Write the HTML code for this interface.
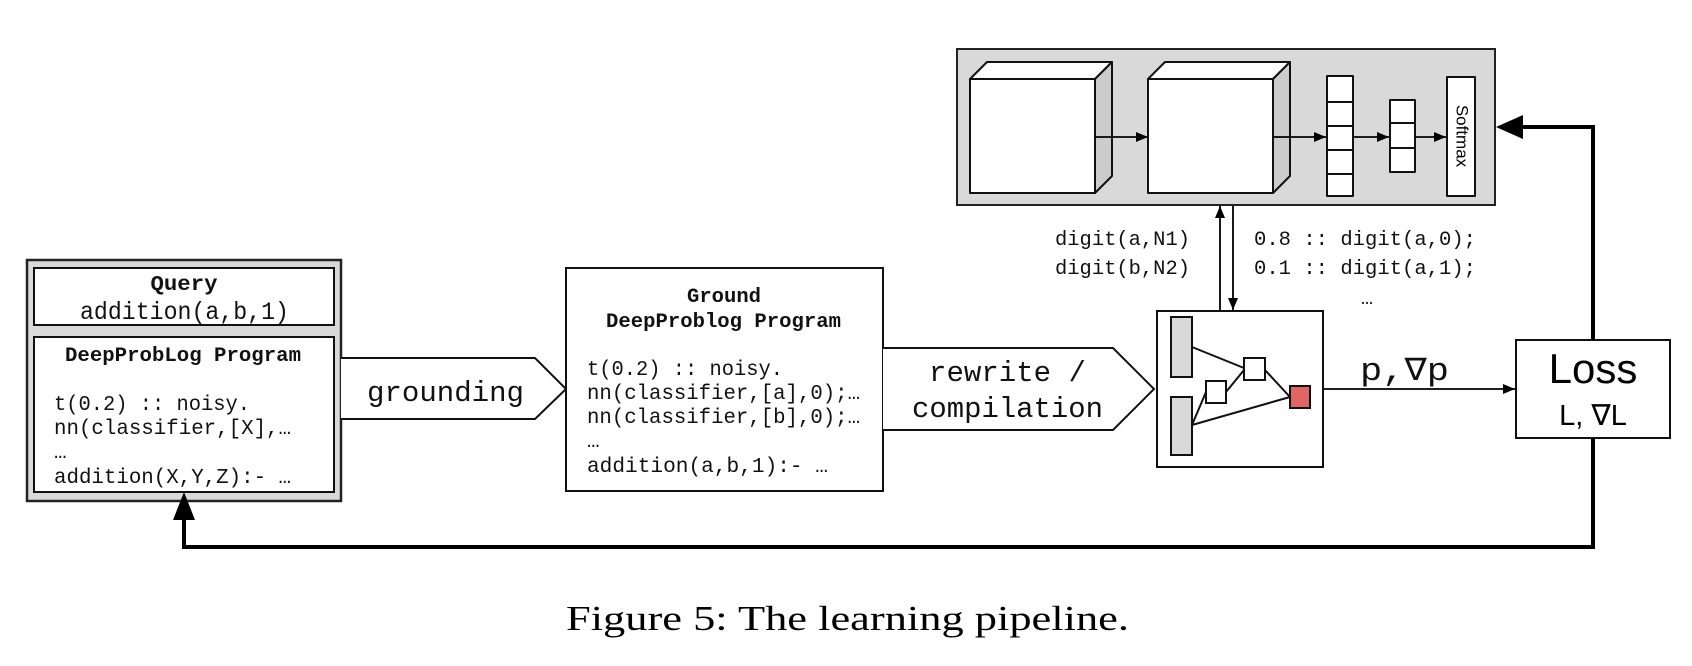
<!DOCTYPE html>
<html><head><meta charset="utf-8"><style>
html,body{margin:0;padding:0;background:#fff;}
svg{display:block;}
.m{font-family:"Liberation Mono","DejaVu Sans Mono",monospace;fill:#111;}
.b{font-weight:bold;}
</style></head><body>
<svg width="1692" height="666" viewBox="0 0 1692 666" xmlns="http://www.w3.org/2000/svg">
<defs>
<marker id="ah" markerWidth="12" markerHeight="10" refX="12" refY="5" orient="auto" markerUnits="userSpaceOnUse"><path d="M0,0 L12,5 L0,10 Z" fill="#000"/></marker>
</defs>
<rect x="27" y="260" width="314" height="241" fill="#d9d9d9" stroke="#222" stroke-width="2.5"/>
<rect x="34" y="268" width="300" height="57" fill="#fff" stroke="#111" stroke-width="2"/>
<text class="m b" x="184" y="290" font-size="21" text-anchor="middle" textLength="67" lengthAdjust="spacingAndGlyphs">Query</text>
<text class="m" x="80" y="319" font-size="25" textLength="209" lengthAdjust="spacingAndGlyphs">addition(a,b,1)</text>
<rect x="34" y="337" width="300" height="155" fill="#fff" stroke="#111" stroke-width="2"/>
<text class="m b" x="65" y="361" font-size="20" textLength="236" lengthAdjust="spacingAndGlyphs">DeepProbLog Program</text>
<g class="m" font-size="21">
<text x="54" y="410" textLength="196" lengthAdjust="spacingAndGlyphs">t(0.2) :: noisy.</text>
<text x="54" y="434" textLength="237" lengthAdjust="spacingAndGlyphs">nn(classifier,[X],…</text>
<text x="54" y="458">…</text>
<text x="54" y="483" textLength="237" lengthAdjust="spacingAndGlyphs">addition(X,Y,Z):- …</text>
</g>
<path d="M341,358 L535,358 L566,389 L535,419 L341,419" fill="#fff" stroke="#111" stroke-width="2"/>
<text class="m" x="367" y="401" font-size="29" textLength="157" lengthAdjust="spacingAndGlyphs">grounding</text>
<rect x="566" y="268" width="317" height="223" fill="#fff" stroke="#111" stroke-width="2"/>
<text class="m b" x="724" y="302" font-size="20" text-anchor="middle" textLength="74" lengthAdjust="spacingAndGlyphs">Ground</text>
<text class="m b" x="606" y="327" font-size="20" textLength="235" lengthAdjust="spacingAndGlyphs">DeepProblog Program</text>
<g class="m" font-size="21">
<text x="587" y="375" textLength="196" lengthAdjust="spacingAndGlyphs">t(0.2) :: noisy.</text>
<text x="587" y="399" textLength="273" lengthAdjust="spacingAndGlyphs">nn(classifier,[a],0);…</text>
<text x="587" y="423" textLength="273" lengthAdjust="spacingAndGlyphs">nn(classifier,[b],0);…</text>
<text x="587" y="447">…</text>
<text x="587" y="472" textLength="241" lengthAdjust="spacingAndGlyphs">addition(a,b,1):- …</text>
</g>
<path d="M883,348 L1113,348 L1154,389 L1113,430 L883,430" fill="#fff" stroke="#111" stroke-width="2"/>
<text class="m" x="929" y="381" font-size="29" textLength="157" lengthAdjust="spacingAndGlyphs">rewrite /</text>
<text class="m" x="912" y="417" font-size="29" textLength="191" lengthAdjust="spacingAndGlyphs">compilation</text>
<rect x="957" y="49" width="538" height="156" fill="#d9d9d9" stroke="#222" stroke-width="2"/>
<g stroke="#111" stroke-width="2" stroke-linejoin="round">
<path d="M970,79 L987,62 L1112,62 L1095,79 Z" fill="#fff"/>
<path d="M1095,79 L1112,62 L1112,176 L1095,193 Z" fill="#ccc"/>
<rect x="970" y="79" width="125" height="114" fill="#fff"/>
<path d="M1148,79 L1165,62 L1290,62 L1273,79 Z" fill="#fff"/>
<path d="M1273,79 L1290,62 L1290,176 L1273,193 Z" fill="#ccc"/>
<rect x="1148" y="79" width="125" height="114" fill="#fff"/>
<rect x="1327" y="76" width="26" height="120" fill="#fff"/>
<path d="M1327,102 H1353 M1327,126 H1353 M1327,150 H1353 M1327,174 H1353" fill="none"/>
<rect x="1390" y="100" width="25" height="72" fill="#fff"/>
<path d="M1390,123 H1415 M1390,148 H1415" fill="none"/>
<rect x="1447" y="77" width="28" height="119" fill="#fff"/>
</g>
<g stroke="#000" stroke-width="1.8" marker-end="url(#ah)">
<line x1="1095" y1="137" x2="1148" y2="137"/>
<line x1="1273" y1="137" x2="1326" y2="137"/>
<line x1="1353" y1="137" x2="1389" y2="137"/>
<line x1="1415" y1="137" x2="1446" y2="137"/>
<line x1="1220" y1="311" x2="1220" y2="206"/>
<line x1="1233" y1="206" x2="1233" y2="310"/>
<line x1="1323" y1="389" x2="1515" y2="389"/>
</g>
<text x="1461" y="136" font-family="Liberation Sans, sans-serif" font-size="17" text-anchor="middle" dominant-baseline="middle" transform="rotate(90 1461 136)">Softmax</text>
<g class="m" font-size="20">
<text x="1055" y="245" textLength="135" lengthAdjust="spacingAndGlyphs">digit(a,N1)</text>
<text x="1055" y="274" textLength="135" lengthAdjust="spacingAndGlyphs">digit(b,N2)</text>
<text x="1254" y="245" textLength="222" lengthAdjust="spacingAndGlyphs">0.8 :: digit(a,0);</text>
<text x="1254" y="274" textLength="222" lengthAdjust="spacingAndGlyphs">0.1 :: digit(a,1);</text>
<text x="1361" y="304">…</text>
</g>
<rect x="1157" y="311" width="166" height="156" fill="#fff" stroke="#111" stroke-width="2"/>
<g stroke="#111" stroke-width="2">
<line x1="1192" y1="347" x2="1244" y2="368"/>
<line x1="1226" y1="392" x2="1244" y2="370"/>
<line x1="1265" y1="370" x2="1290" y2="397"/>
<line x1="1192" y1="425" x2="1206" y2="392"/>
<line x1="1192" y1="425" x2="1290" y2="397"/>
<rect x="1171" y="317" width="21" height="60" fill="#d9d9d9"/>
<rect x="1171" y="397" width="21" height="58" fill="#d9d9d9"/>
<rect x="1244" y="358" width="21" height="22" fill="#fff"/>
<rect x="1206" y="381" width="20" height="22" fill="#fff"/>
<rect x="1290" y="386" width="20" height="22" fill="#e06666"/>
</g>
<text class="m" x="1360" y="380" font-size="32" textLength="89" lengthAdjust="spacingAndGlyphs">p,∇p</text>
<rect x="1516" y="340" width="154" height="98" fill="#fff" stroke="#111" stroke-width="2"/>
<text x="1593" y="383" font-family="Liberation Sans, sans-serif" font-size="42" text-anchor="middle">Loss</text>
<text x="1593" y="425" font-family="Liberation Sans, sans-serif" font-size="29" text-anchor="middle">L, ∇L</text>
<path d="M1593,340 L1593,127 L1520,127" fill="none" stroke="#000" stroke-width="4"/>
<path d="M1496,127 L1523,115 L1523,139 Z" fill="#000"/>
<path d="M1593,438 L1593,547 L184,547 L184,518" fill="none" stroke="#000" stroke-width="4"/>
<path d="M184,492 L173,520 L195,520 Z" fill="#000"/>
<text x="566" y="630" font-family="Liberation Serif, serif" font-size="35" textLength="563" lengthAdjust="spacingAndGlyphs">Figure 5: The learning pipeline.</text>
</svg>
</body></html>
